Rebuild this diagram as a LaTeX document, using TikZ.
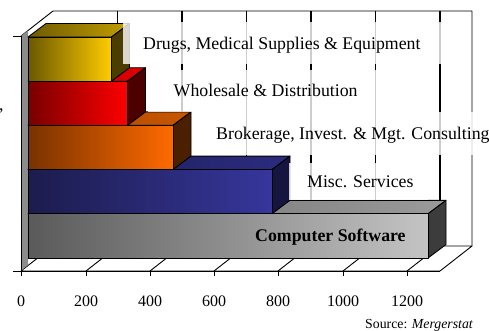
\documentclass[tikz,border=0pt]{standalone}
\usepackage{fontspec}
\setmainfont{Liberation Serif}
\definecolor{wallgray}{HTML}{8C8C8C}
\definecolor{yelL}{HTML}{6B5800}\definecolor{yelR}{HTML}{FFCC00}
\definecolor{yelTL}{HTML}{6E5A00}\definecolor{yelTR}{HTML}{C29F00}\definecolor{yelS}{HTML}{4A3D00}
\definecolor{redL}{HTML}{780000}\definecolor{redR}{HTML}{FF0000}
\definecolor{redTL}{HTML}{B80000}\definecolor{redTR}{HTML}{E00000}\definecolor{redS}{HTML}{4D0000}
\definecolor{orgL}{HTML}{783200}\definecolor{orgR}{HTML}{FF6A00}
\definecolor{orgTL}{HTML}{A84600}\definecolor{orgTR}{HTML}{C85600}\definecolor{orgS}{HTML}{4A2000}
\definecolor{bluL}{HTML}{1C1C4E}\definecolor{bluR}{HTML}{36369C}
\definecolor{bluTL}{HTML}{1A1A52}\definecolor{bluTR}{HTML}{2C2C80}\definecolor{bluS}{HTML}{151540}
\definecolor{gryL}{HTML}{5A5A5A}\definecolor{gryR}{HTML}{C4C4C4}
\definecolor{gryTL}{HTML}{6A6A6A}\definecolor{gryTR}{HTML}{9A9A9A}\definecolor{gryS}{HTML}{3C3C3C}
% #1 top y, #2 right x, #3/#4 front colours, #5/#6 top colours, #7 side colour
\newcommand\chartbar[7]{%
  \path[barline, left color=#5, right color=#6]
    (28,#1) -- (#2,#1) -- ++(18,-13.5) -- (46,{#1-13.5}) -- cycle;
  \path[barline, fill=#7]
    (#2,#1) -- ++(18,-13.5) -- ++(0,44.2) -- (#2,{#1+44.2}) -- cycle;
  \path[barline, left color=#3, right color=#4]
    (28,#1) rectangle (#2,{#1+44.2});
}
\begin{document}
\begin{tikzpicture}[x=1pt,y=-1pt,
  lbl/.style={font=\fontsize{17.8}{20}\selectfont, inner sep=0pt, anchor=base west},
  ticklbl/.style={font=\fontsize{16}{18}\selectfont, inner sep=0pt, anchor=base},
  labelbox/.style={fill=white, fill opacity=0.8},
  gridline/.style={line width=1.2pt, draw=black},
  edge/.style={line width=0.9pt, draw=black, line join=round},
  barline/.style={draw=black, line width=0.9pt, line join=round}]
\useasboundingbox (0,0) rectangle (489,330);
% back wall
\fill[white] (53,11) rectangle (472,246);
\foreach \x in {117.5,182,246.5,311,375.5,440}
  \draw[gridline] (\x,11) -- (\x,246);
\draw[edge] (21,36) -- (53,11) -- (472,11) -- (472,246);
% floor
\path[edge, fill=white] (21,271) -- (440,271) -- (472,246) -- (53,246) -- cycle;
\foreach \x in {86,150,214,278,343,407}
  \draw[edge] (\x,271) -- ++(32,-25);
% left wall strip
\fill[wallgray] (21,36) -- (28,30.5) -- (28,265) -- (21,271) -- cycle;
% axes
\draw[edge] (21,36) -- (21,271);
\draw[edge] (13,36) -- (21,36);
\draw[edge] (13,271) -- (440,271);
\foreach \x in {21,86,150,214,278,343,407}
  \draw[edge] (\x,271) -- (\x,275.5);
% bars
\chartbar{213.8}{428}{gryL}{gryR}{gryTL}{gryTR}{gryS}
\chartbar{169.6}{272}{bluL}{bluR}{bluTL}{bluTR}{bluS}
\chartbar{125.4}{173}{orgL}{orgR}{orgTL}{orgTR}{orgS}
\chartbar{81.2}{127.5}{redL}{redR}{redTL}{redTR}{redS}
\chartbar{37}{111.5}{yelL}{yelR}{yelTL}{yelTR}{yelS}
% label boxes
\fill[labelbox] (123,22) rectangle (455,63.5);
\fill[labelbox] (148,70) rectangle (400,112);
\fill[labelbox] (198,112) rectangle (489,155);
\fill[labelbox] (289,163) rectangle (428,200);
% labels
\node[lbl] (drugs) at (143,49.3) {Drugs, Medical Supplies \& Equipment};
\node[lbl] (whole) at (173.5,96.5) {Wholesale \& Distribution};
\node[lbl] (broker) at (216,139) {Brokerage, Invest. \& Mgt. Consulting};
\node[lbl] (misc) at (307,187.3) {Misc. Services};
\node[lbl] (soft) at (255,241.5) {\bfseries Computer Software};
\node[lbl] (comma) at (-1,110) {,};
% tick labels
\foreach \x/\v [count=\i] in {21/0,86/200,150/400,214/600,278/800,343/1000,407/1200}
  \node[ticklbl] (t\i) at (\x,306.7) {\v};
\node[font=\fontsize{13.8}{16}\selectfont, inner sep=0pt, anchor=base west] (src)
  at (365,328) {Source: \textit{Mergerstat}};
\end{tikzpicture}
\end{document}
